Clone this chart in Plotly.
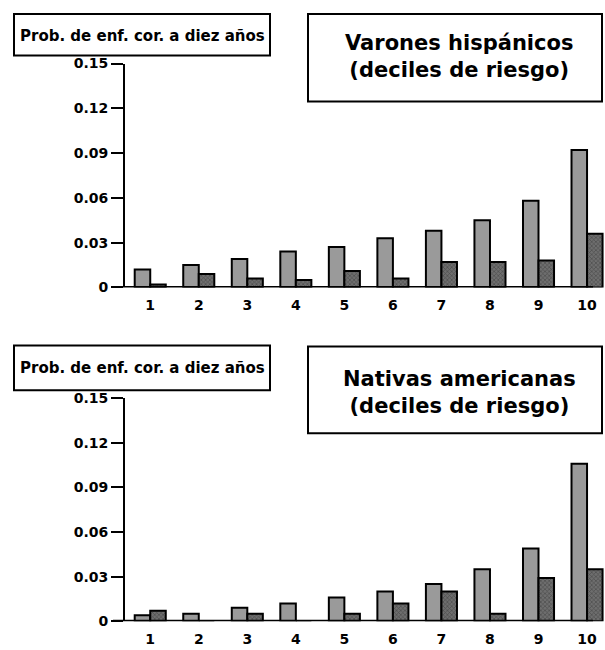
import plotly.graph_objects as go

deciles = [1, 2, 3, 4, 5, 6, 7, 8, 9, 10]
decile_labels = ["1", "2", "3", "4", "5", "6", "7", "8", "9", "10"]
hisp_gray = [0.012, 0.015, 0.019, 0.024, 0.027, 0.033, 0.038, 0.045, 0.058, 0.092]
hisp_dark = [0.002, 0.009, 0.006, 0.005, 0.011, 0.006, 0.017, 0.017, 0.018, 0.036]
nat_gray = [0.004, 0.005, 0.009, 0.012, 0.016, 0.020, 0.025, 0.035, 0.049, 0.106]
nat_dark = [0.007, 0.0, 0.005, 0.0, 0.005, 0.012, 0.020, 0.005, 0.029, 0.035]
y_ticks = [0, 0.03, 0.06, 0.09, 0.12, 0.15]
y_tick_labels = ["0", "0.03", "0.06", "0.09", "0.12", "0.15"]
ylabel = "Prob. de enf. cor. a diez años"
title_top = "Varones hispánicos<br>(deciles de riesgo)"
title_bot = "Nativas americanas<br>(deciles de riesgo)"

W, H = 605, 650
FONT = "DejaVu Sans"

def px_x(v):
    return v / W

def px_y(v):
    # compensate for the vertical mapping observed in the capture
    p = (v - 7.4) / 0.976
    return 1 - p / H

fig = go.Figure()

def add_pair(gray, dark, xa, ya):
    fig.add_trace(go.Bar(x=deciles, y=gray, xaxis=xa, yaxis=ya,
                         marker=dict(color="#9a9a9a", line=dict(color="black", width=2))))
    fig.add_trace(go.Bar(x=deciles, y=dark, xaxis=xa, yaxis=ya,
                         marker=dict(color="#5e5e5e", line=dict(color="black", width=2),
                                     pattern=dict(shape="x", fgcolor="#2a2a2a", bgcolor="#6e6e6e",
                                                  size=3, solidity=0.4))))

add_pair(hisp_gray, hisp_dark, "x", "y")
add_pair(nat_gray, nat_dark, "x2", "y2")

xdom = [px_x(125), 1.0]
xcommon = dict(range=[0.48, 10.37], tickmode="array", tickvals=deciles, ticktext=decile_labels,
               showline=False, ticks="", showgrid=False, zeroline=False, ticklabelstandoff=8,
               tickfont=dict(family=FONT, size=14, color="black", weight="bold"),
               domain=xdom, fixedrange=True)
ycommon = dict(range=[0, 0.15], tickmode="array", tickvals=y_ticks, ticktext=y_tick_labels,
               showline=True, linecolor="black", linewidth=2, ticks="outside", ticklen=12,
               tickwidth=2, tickcolor="black", showgrid=False, zeroline=False,
               tickfont=dict(family=FONT, size=14, color="black", weight="bold"), fixedrange=True)

fig.update_layout(
    width=W, height=H, margin=dict(l=0, r=0, t=0, b=0),
    paper_bgcolor="white", plot_bgcolor="white", showlegend=False,
    barmode="group", bargap=0.36, bargroupgap=0,
    xaxis=dict(anchor="y", **xcommon),
    yaxis=dict(anchor="x", domain=[px_y(287), px_y(63)], **ycommon),
    xaxis2=dict(anchor="y2", **xcommon),
    yaxis2=dict(anchor="x2", domain=[px_y(621), px_y(398)], **ycommon),
)

# baseline axis lines
for xr, yr in [("x domain", "y"), ("x2 domain", "y2")]:
    fig.add_shape(type="line", xref=xr, yref=yr, x0=-0.025, x1=0.975, y0=0, y1=0,
                  line=dict(color="black", width=3))

# boxes
boxes = [(14, 13.5, 270, 55), (308, 13.5, 602, 101), (14, 345, 270, 390), (308, 346, 602, 433)]
for x0, y0, x1, y1 in boxes:
    fig.add_shape(type="rect", xref="paper", yref="paper",
                  x0=px_x(x0), x1=px_x(x1), y0=px_y(y1), y1=px_y(y0),
                  line=dict(color="black", width=2), fillcolor="white", layer="above")

for yc in [35, 368]:
    fig.add_annotation(xref="paper", yref="paper", x=px_x(142), y=px_y(yc), text=ylabel,
                       showarrow=False, xanchor="center", yanchor="middle",
                       font=dict(family=FONT, size=15, color="black", weight="bold"))
for yc, t in [(56, title_top), (392, title_bot)]:
    fig.add_annotation(xref="paper", yref="paper", x=px_x(459), y=px_y(yc), text=t,
                       showarrow=False, xanchor="center", yanchor="middle", align="center",
                       font=dict(family=FONT, size=21, color="black", weight="bold"))

fig.write_html("out.html", config={"displayModeBar": False},
               post_script="document.body.style.margin='0';document.body.style.overflow='hidden';")
